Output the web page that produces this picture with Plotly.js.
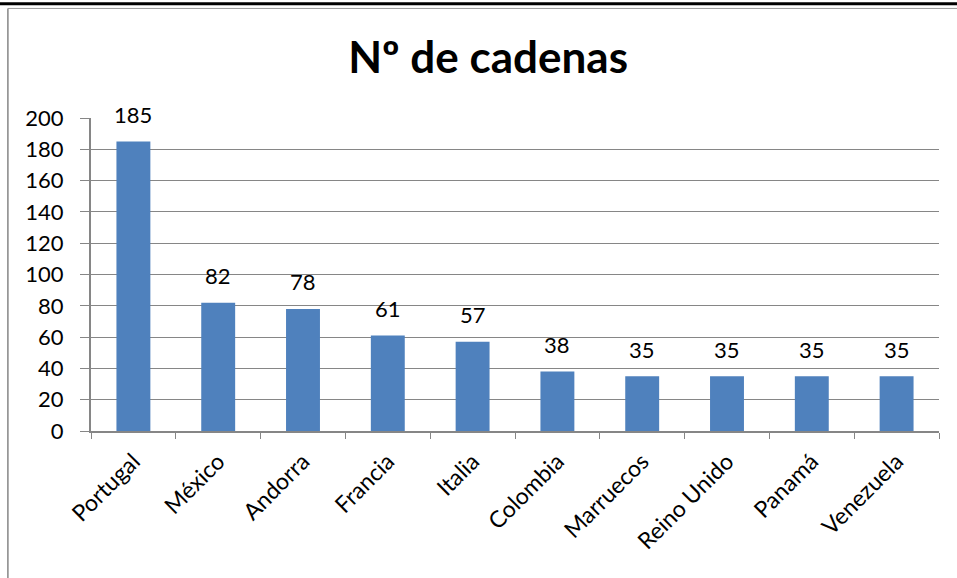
<!DOCTYPE html>
<html>
<head>
<meta charset="utf-8">
<script src="https://cdn.plot.ly/plotly-3.0.1.min.js"></script>
<style>
  html, body { margin: 0; padding: 0; background: #fff; }
  #chart { width: 957px; height: 578px; }
</style>
</head>
<body>
<div id="chart"></div>
<script>
var paises = ["Portugal", "México", "Andorra", "Francia", "Italia", "Colombia", "Marruecos", "Reino Unido", "Panamá", "Venezuela"];
var cadenas = [185, 82, 78, 61, 57, 38, 35, 35, 35, 35];
var yTicks = [0, 20, 40, 60, 80, 100, 120, 140, 160, 180, 200];

var fuente = "Lato, 'Open Sans', sans-serif";
var gris = "#868686";

// etiquetas de valor encima de cada barra
var etiquetas = paises.map(function (p, i) {
  return {
    x: p,
    y: cadenas[i],
    xref: "x",
    yref: "y",
    text: String(cadenas[i]),
    showarrow: false,
    yanchor: "middle",
    yshift: 27,
    font: { family: fuente, size: 22, color: "#000" },
  };
});

Plotly.newPlot(
  "chart",
  [
    {
      type: "bar",
      x: paises,
      y: cadenas,
      cliponaxis: false,
      marker: { color: "#4f81bd" },
      hoverinfo: "x+y",
    },
  ],
  {
    width: 957,
    height: 578,
    margin: { l: 91, r: 18, t: 118, b: 147 },
    paper_bgcolor: "#fff",
    plot_bgcolor: "#fff",
    showlegend: false,
    bargap: 0.6,
    title: {
      text: "<b>Nº de cadenas</b>",
      font: { family: fuente, size: 44, color: "#000" },
      x: 0.51,
      xanchor: "center",
      y: 0.9,
      yanchor: "middle",
    },
    xaxis: {
      type: "category",
      tickangle: -45,
      tickfont: { family: fuente, size: 23, color: "#000" },
      ticks: "outside",
      tickson: "boundaries",
      ticklen: 6,
      tickcolor: gris,
      ticklabelstandoff: 6,
      showline: true,
      linecolor: gris,
      linewidth: 2,
      showgrid: false,
      fixedrange: true,
    },
    yaxis: {
      range: [0, 200],
      tickvals: yTicks,
      tickfont: { family: fuente, size: 22, color: "#000" },
      ticks: "outside",
      ticklen: 9,
      tickcolor: gris,
      ticklabelstandoff: 12,
      showline: true,
      linecolor: gris,
      linewidth: 2,
      showgrid: true,
      gridcolor: gris,
      gridwidth: 1,
      zeroline: false,
      fixedrange: true,
    },
    annotations: etiquetas,
    shapes: [
      // líneas del borde de la página original
      { type: "line", xref: "paper", yref: "paper", x0: -0.2, x1: 1.1, y0: 1.365, y1: 1.365, line: { color: "#000", width: 3 } },
      { type: "line", xref: "paper", yref: "paper", x0: -0.098, x1: 1.1, y0: 1.35, y1: 1.35, line: { color: "#999", width: 1 } },
      { type: "line", xref: "paper", yref: "paper", x0: -0.098, x1: -0.098, y0: 1.35, y1: -0.6, line: { color: gris, width: 1.5 } },
    ],
  },
  { displayModeBar: false }
);
</script>
</body>
</html>
